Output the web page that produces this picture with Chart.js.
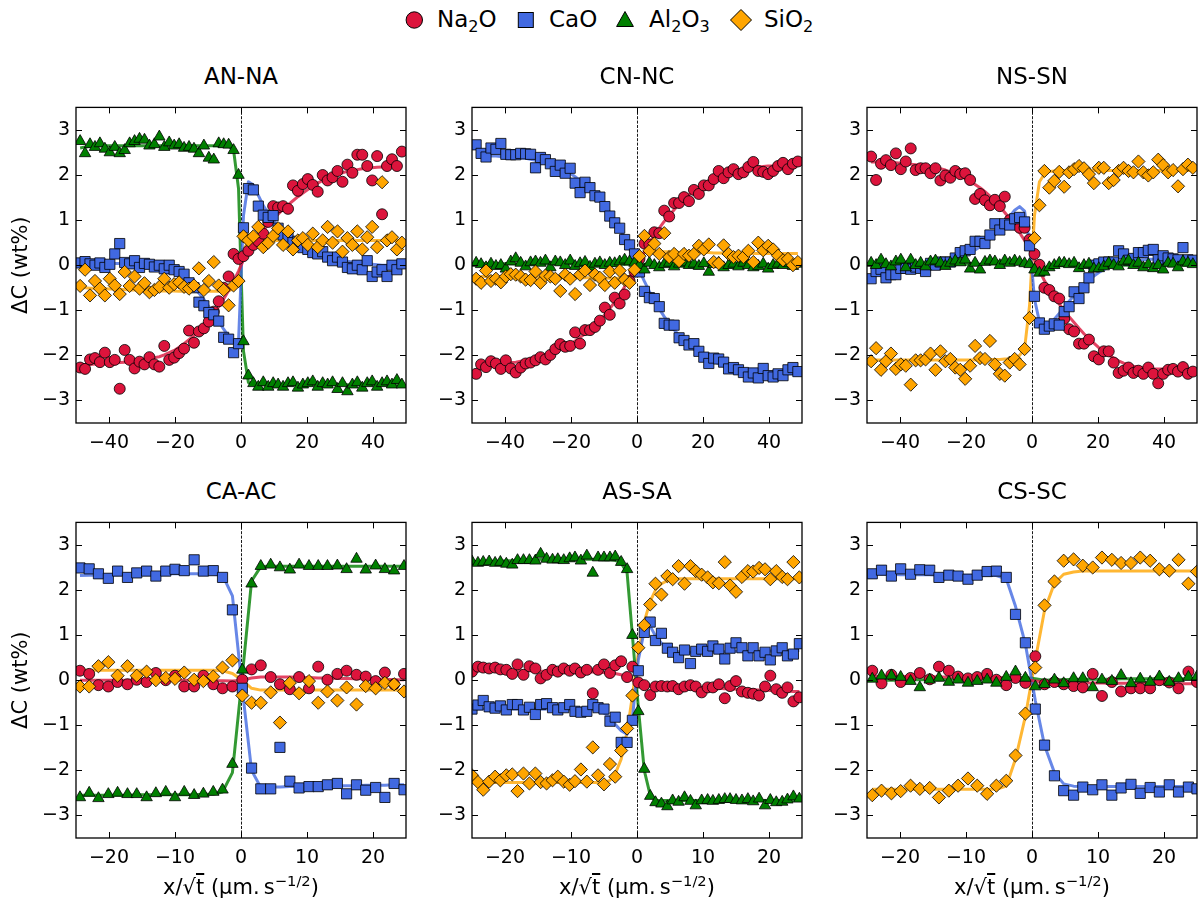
<!DOCTYPE html>
<html>
<head>
<meta charset="utf-8">
<script src="https://cdn.jsdelivr.net/npm/chart.js"></script>
<style>
  html, body { margin: 0; padding: 0; background: #fff; }
  body { width: 1198px; height: 906px; position: relative; overflow: hidden; font-family: 'DejaVu Sans', sans-serif; color: #000; }
  canvas { position: absolute; }
  .txt { position: absolute; white-space: nowrap; }
  .ptitle { font-size: 23px; line-height: 23px; text-align: center; width: 330px; }
  .xtitle { font-size: 21px; line-height: 21px; text-align: center; width: 330px; }
  .leg { font-size: 23px; line-height: 23px; }
  .sb { font-size: 70%; position: relative; top: 0.3em; }
  .sp { font-size: 70%; position: relative; top: -0.55em; }
  .ov { text-decoration: overline; }
</style>
</head>
<body>
<svg width="1198" height="44" style="position:absolute;left:0;top:0">
  <circle cx="414.3" cy="20" r="8.2" fill="#DC143C" stroke="#000" stroke-width="1"/>
  <rect x="518.3" y="12.5" width="15" height="15" fill="#4169E1" stroke="#000" stroke-width="1"/>
  <polygon points="625,11.5 633.4,26.5 616.6,26.5" fill="#008000" stroke="#000" stroke-width="1"/>
  <polygon points="741,9.5 751.5,20 741,30.5 730.5,20" fill="#FFA500" stroke="#000" stroke-width="1"/>
</svg>
<div class="txt leg" style="left:437px;top:8px">Na<span class="sb">2</span>O</div>
<div class="txt leg" style="left:549px;top:8px">CaO</div>
<div class="txt leg" style="left:649px;top:8px">Al<span class="sb">2</span>O<span class="sb">3</span></div>
<div class="txt leg" style="left:764px;top:8px">SiO<span class="sb">2</span></div>

<script>
// shared x positions for the three top panels (x/sqrt(t), um.s^-1/2)
const xTop = [
  -48.75,-47.25,-45.75,-44.25,-42.75,-41.25,-39.75,-38.25,-36.75,-35.25,
  -33.75,-32.25,-30.75,-29.25,-27.75,-26.25,-24.75,-23.25,-21.75,-20.25,
  -18.75,-17.25,-15.75,-14.25,-12.75,-11.25,-9.75,-8.25,-6.75,-5.25,
  -3.75,-2.25,-0.75,0.75,2.25,3.75,5.25,6.75,8.25,9.75,
  11.25,12.75,14.25,15.75,17.25,18.75,20.25,21.75,23.25,24.75,
  26.25,27.75,29.25,30.75,32.25,33.75,35.25,36.75,38.25,39.75,
  41.25,42.75,44.25,45.75,47.25,48.75];

// tick labels
const xTicksTop = [-40, -20, 0, 20, 40];
const xTicksBottom = [-20, -10, 0, 10, 20];
const yTicks = [-3, -2, -1, 0, 1, 2, 3];

// ---- AN-NA ----
const anNa2O = [
  -2.27,-2.3,-2.09,-2.06,-2.15,-1.94,-2.15,-2.1,-2.74,-1.88,
  -2.1,-2.29,-2.14,-2.2,-2.04,-2.2,-2.25,-1.79,-2.1,-2.05,
  -1.95,-1.85,-1.45,-1.72,-1.47,-1.4,-1.25,-1.03,-0.8,-0.5,
  -0.25,0.25,0.14,0.2,0.32,0.45,0.53,0.7,0.96,1.31,
  1.28,1.31,1.25,1.77,1.65,1.8,1.91,1.78,1.63,2.0,
  1.88,1.95,2.09,1.85,2.23,2.05,2.45,2.45,2.2,1.88,
  2.42,1.13,2.2,2.35,2.2,2.52];
const anCaO = [
  0.05,0.08,0.03,0.0,0.05,-0.05,0.02,0.25,0.48,0.06,
  0.03,0.1,-0.05,0.04,0.02,-0.04,0.0,-0.08,0.0,-0.1,
  -0.14,-0.2,-0.39,-0.5,-0.82,-0.9,-1.05,-1.1,-1.24,-1.6,
  -1.64,-1.94,-1.74,0.83,1.7,1.67,1.31,1.11,1.06,1.1,
  0.82,0.67,0.62,0.5,0.53,0.39,0.35,0.28,0.25,0.3,
  0.18,0.1,0.18,0.07,-0.05,-0.08,0.0,-0.1,0.1,-0.25,
  -0.15,-0.1,-0.25,0.0,-0.1,0.03];
const anAl2O3 = [
  2.75,2.48,2.68,2.62,2.7,2.58,2.5,2.62,2.48,2.55,
  2.7,2.75,2.8,2.78,2.65,2.68,2.85,2.62,2.72,2.65,
  2.68,2.6,2.62,2.58,2.48,2.65,2.38,2.34,2.7,2.68,
  2.67,2.55,2.0,-1.69,-2.45,-2.62,-2.7,-2.6,-2.7,-2.62,
  -2.65,-2.7,-2.62,-2.6,-2.72,-2.65,-2.62,-2.58,-2.7,-2.62,
  -2.65,-2.6,-2.75,-2.62,-2.8,-2.65,-2.6,-2.72,-2.62,-2.58,
  -2.7,-2.62,-2.58,-2.65,-2.55,-2.65];
const anSiO2 = [
  -0.46,-0.1,-0.67,-0.35,-0.52,-0.67,-0.3,-0.45,-0.64,-0.15,
  -0.46,-0.25,-0.52,-0.4,-0.6,-0.55,-0.48,-0.3,-0.5,-0.42,
  -0.38,-0.48,-0.52,-0.45,-0.07,-0.55,-0.35,0.07,-0.45,-0.55,
  -0.89,-0.45,-0.35,0.64,0.55,0.64,0.85,0.4,0.5,0.65,
  0.82,0.45,0.75,0.35,0.55,0.6,0.45,0.7,0.4,0.55,
  0.85,0.5,0.75,0.3,0.6,0.45,0.75,0.35,0.62,0.85,
  0.4,1.84,0.55,0.62,0.35,0.5];
const anNa2OFit = [
  -2.2,-2.2,-2.2,-2.19,-2.19,-2.18,-2.18,-2.17,-2.16,-2.15,
  -2.14,-2.13,-2.12,-2.1,-2.08,-2.05,-2.03,-1.99,-1.94,-1.89,
  -1.82,-1.74,-1.65,-1.56,-1.45,-1.34,-1.22,-1.07,-0.92,-0.75,
  -0.56,-0.36,-0.13,0.12,0.35,0.53,0.65,0.78,0.9,1.02,
  1.13,1.24,1.34,1.43,1.52,1.6,1.68,1.75,1.82,1.88,
  1.93,1.97,2.01,2.05,2.08,2.1,2.12,2.14,2.15,2.16,
  2.17,2.18,2.18,2.19,2.19,2.2];
const anCaOFit = [
  0.05,0.05,0.05,0.05,0.05,0.04,0.04,0.04,0.04,0.03,
  0.03,0.02,0.01,0.0,-0.01,-0.03,-0.05,-0.08,-0.12,-0.17,
  -0.23,-0.3,-0.4,-0.5,-0.62,-0.76,-0.92,-1.08,-1.25,-1.42,
  -1.58,-1.7,-1.7,1.1,1.85,1.78,1.55,1.32,1.15,1.0,
  0.88,0.76,0.66,0.57,0.5,0.43,0.38,0.33,0.28,0.24,
  0.2,0.17,0.14,0.11,0.09,0.07,0.05,0.04,0.03,0.02,
  0.01,0.0,0.0,-0.01,-0.01,-0.02];
const anAl2O3Fit = [
  2.6,2.62,2.64,2.65,2.65,2.65,2.65,2.65,2.65,2.65,
  2.65,2.65,2.65,2.65,2.65,2.65,2.65,2.65,2.65,2.65,
  2.65,2.65,2.65,2.65,2.65,2.65,2.65,2.65,2.65,2.65,
  2.64,2.55,1.7,-1.9,-2.6,-2.65,-2.65,-2.65,-2.65,-2.65,
  -2.65,-2.65,-2.65,-2.65,-2.65,-2.65,-2.65,-2.65,-2.65,-2.65,
  -2.65,-2.65,-2.65,-2.65,-2.65,-2.65,-2.65,-2.65,-2.65,-2.65,
  -2.65,-2.65,-2.65,-2.65,-2.65,-2.65];
const anSiO2Fit = [
  -0.5,-0.5,-0.51,-0.51,-0.52,-0.52,-0.53,-0.53,-0.54,-0.54,
  -0.55,-0.55,-0.55,-0.56,-0.56,-0.56,-0.57,-0.57,-0.57,-0.57,
  -0.58,-0.58,-0.58,-0.58,-0.58,-0.58,-0.58,-0.58,-0.58,-0.58,
  -0.57,-0.52,-0.3,0.35,0.52,0.55,0.55,0.55,0.55,0.55,
  0.55,0.55,0.55,0.55,0.55,0.55,0.55,0.55,0.55,0.55,
  0.55,0.55,0.55,0.55,0.55,0.55,0.55,0.55,0.55,0.55,
  0.55,0.55,0.55,0.55,0.55,0.55];

// ---- CN-NC ----
const cnNa2O = [
  -2.41,-2.2,-2.26,-2.13,-2.18,-2.3,-2.11,-2.29,-2.38,-2.27,
  -2.18,-2.16,-2.11,-2.04,-2.09,-1.99,-1.86,-1.75,-1.81,-1.79,
  -1.49,-1.74,-1.44,-1.44,-1.37,-1.23,-0.94,-1.1,-0.72,-0.85,
  -0.65,-0.35,-0.14,0.14,0.48,0.46,0.73,0.71,1.21,1.08,
  1.38,1.38,1.51,1.42,1.67,1.58,1.77,1.77,1.91,2.09,
  1.93,2.06,2.13,2.02,2.06,2.18,2.29,2.09,2.07,2.02,
  2.09,2.2,2.27,2.13,2.25,2.3];
const cnCaO = [
  2.67,2.48,2.4,2.6,2.57,2.7,2.46,2.45,2.45,2.48,
  2.47,2.46,2.16,2.39,2.34,2.25,2.08,2.22,2.04,2.15,
  1.82,1.61,1.84,1.72,1.54,1.51,1.3,1.09,0.94,0.82,
  0.57,0.45,0.25,-0.15,-0.58,-0.72,-0.74,-0.92,-1.29,-1.33,
  -1.33,-1.61,-1.67,-1.77,-1.74,-1.91,-2.04,-2.18,-2.06,-2.08,
  -2.15,-2.3,-2.27,-2.32,-2.38,-2.48,-2.39,-2.5,-2.29,-2.45,
  -2.48,-2.41,-2.45,-2.32,-2.27,-2.36];
const cnAl2O3 = [
  0.05,0.02,-0.05,0.03,-0.02,0.0,-0.08,0.08,0.15,0.05,
  -0.03,0.06,0.08,0.05,0.1,-0.05,0.08,0.06,0.0,0.1,
  -0.02,0.04,0.07,-0.04,0.03,0.06,0.0,0.05,0.04,0.08,
  0.12,0.08,0.05,0.0,-0.1,0.05,0.0,-0.05,0.02,0.05,
  -0.03,0.03,0.06,0.0,0.03,-0.02,0.04,-0.15,0.02,0.05,
  -0.05,0.0,0.03,-0.03,0.05,0.0,-0.05,-0.02,0.03,-0.08,
  0.0,0.03,0.0,0.05,-0.02,0.03];
const cnSiO2 = [
  -0.3,-0.39,-0.12,-0.35,-0.3,-0.38,-0.25,-0.2,-0.21,-0.25,
  -0.32,-0.33,-0.14,-0.39,-0.23,-0.25,-0.3,-0.57,-0.21,-0.3,
  -0.64,-0.21,-0.12,-0.44,-0.21,-0.28,-0.44,-0.14,-0.39,-0.12,
  -0.32,-0.39,-0.1,0.2,0.65,0.32,0.48,0.25,0.71,0.18,
  0.25,0.09,0.25,0.21,0.25,0.43,0.35,0.46,0.07,0.04,
  0.44,0.25,0.18,0.21,0.18,0.32,0.07,0.5,0.33,0.43,
  0.35,0.21,0.11,0.14,0.0,0.07];
const cnNa2OFit = [
  -2.2,-2.2,-2.2,-2.19,-2.19,-2.18,-2.17,-2.16,-2.15,-2.13,
  -2.11,-2.09,-2.06,-2.03,-2.0,-1.96,-1.91,-1.86,-1.81,-1.75,
  -1.68,-1.6,-1.52,-1.43,-1.33,-1.22,-1.1,-0.96,-0.82,-0.66,
  -0.48,-0.3,-0.1,0.1,0.3,0.49,0.66,0.82,0.97,1.1,
  1.23,1.35,1.46,1.56,1.65,1.73,1.8,1.87,1.93,1.98,
  2.02,2.06,2.09,2.12,2.14,2.16,2.17,2.18,2.19,2.2,
  2.2,2.2,2.21,2.21,2.21,2.21];
const cnCaOFit = [
  2.42,2.42,2.42,2.42,2.42,2.41,2.41,2.4,2.39,2.38,
  2.37,2.35,2.33,2.31,2.28,2.24,2.2,2.15,2.1,2.04,
  1.96,1.88,1.79,1.69,1.58,1.46,1.32,1.17,1.0,0.8,
  0.6,0.37,0.12,-0.12,-0.36,-0.58,-0.78,-0.97,-1.14,-1.29,
  -1.43,-1.56,-1.67,-1.77,-1.86,-1.94,-2.02,-2.08,-2.14,-2.19,
  -2.23,-2.27,-2.3,-2.32,-2.34,-2.36,-2.37,-2.38,-2.39,-2.4,
  -2.4,-2.41,-2.41,-2.41,-2.41,-2.41];
const cnAl2O3Fit = [
  0.03,0.03,0.03,0.03,0.03,0.03,0.03,0.03,0.03,0.03,
  0.03,0.03,0.03,0.03,0.03,0.03,0.03,0.03,0.03,0.03,
  0.02,0.02,0.02,0.02,0.02,0.02,0.02,0.02,0.02,0.02,
  0.02,0.02,0.02,0.02,0.02,0.02,0.02,0.02,0.02,0.02,
  0.02,0.02,0.02,0.02,0.02,0.02,0.02,0.02,0.02,0.02,
  0.01,0.01,0.01,0.01,0.01,0.01,0.01,0.01,0.01,0.01,
  0.01,0.01,0.01,0.01,0.01,0.01];
const cnSiO2Fit = [
  -0.25,-0.25,-0.25,-0.25,-0.25,-0.26,-0.26,-0.26,-0.26,-0.26,
  -0.27,-0.27,-0.27,-0.27,-0.27,-0.27,-0.28,-0.28,-0.28,-0.28,
  -0.28,-0.28,-0.28,-0.28,-0.29,-0.29,-0.29,-0.29,-0.29,-0.29,
  -0.28,-0.25,-0.1,0.12,0.28,0.32,0.32,0.31,0.3,0.3,
  0.29,0.29,0.29,0.28,0.28,0.28,0.28,0.28,0.27,0.27,
  0.27,0.27,0.27,0.27,0.27,0.26,0.26,0.26,0.26,0.26,
  0.26,0.26,0.26,0.26,0.26,0.26];

// ---- NS-SN ----
const nsNa2O = [
  2.41,1.89,2.25,2.33,2.22,2.48,2.13,2.3,2.59,2.11,
  2.15,2.15,2.04,2.15,1.88,1.99,1.94,2.09,2.02,2.04,
  1.89,1.47,1.58,1.44,1.33,1.45,1.31,1.52,1.0,0.96,
  0.83,0.83,0.57,0.25,0.01,-0.5,-0.55,-0.69,-0.74,-1.19,
  -1.42,-1.47,-1.74,-1.74,-1.65,-2.02,-2.09,-1.91,-1.91,-2.16,
  -2.39,-2.34,-2.27,-2.39,-2.34,-2.41,-2.27,-2.41,-2.62,-2.41,
  -2.32,-2.3,-2.36,-2.26,-2.41,-2.36];
const nsCaO = [
  -0.3,-0.14,-0.09,-0.28,-0.21,-0.21,-0.07,-0.07,-0.09,-0.04,
  -0.07,-0.14,0.04,0.0,0.07,0.07,0.07,0.16,0.28,0.32,
  0.35,0.53,0.53,0.48,0.67,0.92,0.78,0.92,0.89,1.03,
  1.06,0.96,0.43,-0.69,-1.28,-1.42,-1.35,-1.3,-1.33,-1.03,
  -0.92,-0.59,-0.74,-0.5,-0.28,0.0,0.03,0.07,0.07,0.07,
  0.32,0.25,0.11,0.15,0.28,0.28,0.33,0.35,0.12,0.21,
  0.16,0.14,0.12,0.39,0.12,0.11];
const nsAl2O3 = [
  0.05,0.0,0.12,0.02,-0.03,0.08,0.12,-0.05,0.12,0.0,
  0.05,-0.03,0.08,0.1,0.05,-0.02,0.05,0.1,0.06,0.12,
  -0.08,0.05,-0.1,0.07,0.1,0.08,0.0,0.1,0.05,0.1,
  0.07,0.04,0.02,-0.1,-0.17,-0.15,-0.05,0.0,0.05,0.05,
  0.02,0.05,-0.07,0.0,0.03,-0.08,-0.07,-0.03,0.05,0.0,
  -0.03,0.08,0.1,0.0,0.05,-0.05,0.02,-0.07,0.0,-0.1,
  0.05,0.03,-0.05,0.08,0.05,0.02];
const nsSiO2 = [
  -2.13,-1.84,-2.32,-2.13,-1.96,-2.3,-2.2,-2.23,-2.65,-2.11,
  -2.11,-2.09,-1.96,-2.32,-1.91,-2.13,-2.08,-2.27,-2.32,-2.52,
  -2.23,-1.79,-2.06,-2.08,-1.68,-2.2,-2.41,-2.45,-2.16,-2.08,
  -2.2,-1.86,-1.17,0.6,1.33,2.09,1.72,1.87,2.07,1.74,
  2.06,2.13,2.2,2.15,2.02,1.82,2.16,2.16,1.82,1.89,
  2.09,2.16,2.09,2.06,2.3,2.06,1.99,2.06,2.34,2.22,
  2.06,2.11,1.75,2.13,2.23,2.16];
const nsNa2OFit = [
  2.29,2.29,2.28,2.28,2.27,2.27,2.26,2.25,2.24,2.23,
  2.22,2.21,2.19,2.17,2.14,2.11,2.07,2.03,1.98,1.92,
  1.86,1.79,1.72,1.63,1.53,1.42,1.3,1.17,1.03,0.88,
  0.72,0.55,0.35,0.12,-0.12,-0.34,-0.53,-0.7,-0.86,-1.0,
  -1.14,-1.27,-1.4,-1.52,-1.63,-1.73,-1.83,-1.91,-1.99,-2.06,
  -2.12,-2.17,-2.21,-2.24,-2.26,-2.28,-2.29,-2.3,-2.3,-2.3,
  -2.3,-2.3,-2.3,-2.3,-2.3,-2.3];
const nsCaOFit = [
  -0.2,-0.19,-0.18,-0.17,-0.16,-0.15,-0.13,-0.12,-0.1,-0.08,
  -0.06,-0.04,-0.02,0.0,0.03,0.06,0.09,0.13,0.18,0.23,
  0.28,0.34,0.41,0.49,0.58,0.68,0.8,0.93,1.08,1.22,
  1.3,1.2,0.5,-0.75,-1.25,-1.35,-1.3,-1.2,-1.07,-0.93,
  -0.8,-0.67,-0.55,-0.43,-0.33,-0.24,-0.16,-0.1,-0.04,0.0,
  0.03,0.06,0.08,0.1,0.11,0.12,0.13,0.13,0.14,0.14,
  0.14,0.14,0.14,0.14,0.14,0.14];
const nsAl2O3Fit = [
  0.02,0.02,0.02,0.02,0.02,0.02,0.02,0.02,0.02,0.02,
  0.02,0.02,0.02,0.02,0.02,0.02,0.02,0.02,0.02,0.02,
  0.02,0.02,0.02,0.03,0.03,0.03,0.04,0.04,0.04,0.05,
  0.05,0.05,0.03,-0.03,-0.06,-0.05,-0.03,-0.02,-0.01,-0.01,
  -0.01,-0.01,-0.01,-0.01,-0.01,-0.01,-0.01,-0.01,-0.01,-0.01,
  0.0,0.0,0.0,0.0,0.0,0.0,0.0,0.0,0.0,0.0,
  0.0,0.0,0.0,0.0,0.0,0.0];
const nsSiO2Fit = [
  -2.1,-2.1,-2.1,-2.1,-2.1,-2.1,-2.1,-2.1,-2.1,-2.1,
  -2.1,-2.1,-2.1,-2.1,-2.1,-2.1,-2.1,-2.1,-2.1,-2.1,
  -2.1,-2.1,-2.1,-2.1,-2.09,-2.09,-2.09,-2.08,-2.08,-2.07,
  -2.0,-1.85,-0.9,1.1,1.85,2.02,2.08,2.09,2.1,2.1,
  2.1,2.1,2.1,2.1,2.1,2.1,2.1,2.1,2.1,2.1,
  2.1,2.1,2.1,2.1,2.1,2.1,2.1,2.1,2.1,2.1,
  2.1,2.1,2.1,2.1,2.1,2.1];

// ---- CA-AC ----
const xCA = [
  -24.4,-23.0,-21.6,-20.1,-18.7,-17.2,-15.8,-14.3,-12.9,-11.4,
  -10.0,-8.6,-7.1,-5.7,-4.2,-2.8,-1.3,0.2,1.6,3.0,
  4.5,5.9,7.4,8.8,10.3,11.7,13.1,14.6,16.0,17.5,
  18.9,20.4,21.8,23.2,24.7];
const caNa2O = [
  0.21,0.14,-0.11,-0.14,-0.04,-0.09,0.01,-0.04,0.16,0.0,
  0.1,-0.14,-0.14,0.1,-0.09,-0.18,-0.14,0.01,0.24,0.33,
  0.07,-0.09,-0.2,0.07,-0.18,0.3,0.01,0.14,0.21,0.12,
  0.08,-0.02,0.17,-0.09,0.14];
const caCaO = [
  2.49,2.47,2.36,2.26,2.42,2.28,2.38,2.42,2.31,2.42,
  2.46,2.43,2.67,2.42,2.43,2.28,1.56,-0.18,-1.95,-2.41,
  -2.41,-1.49,-2.24,-2.39,-2.36,-2.36,-2.32,-2.29,-2.52,-2.32,
  -2.44,-2.38,-2.6,-2.29,-2.43];
const caAl2O3 = [
  -2.6,-2.5,-2.62,-2.53,-2.5,-2.53,-2.53,-2.6,-2.51,-2.48,
  -2.6,-2.48,-2.55,-2.52,-2.48,-2.43,-1.86,0.23,2.14,2.53,
  2.56,2.5,2.45,2.56,2.53,2.53,2.53,2.54,2.46,2.69,
  2.45,2.54,2.46,2.43,2.53];
const caSiO2 = [
  -0.14,-0.14,0.31,0.4,0.1,0.31,0.1,0.19,0.0,0.05,
  0.03,0.17,0.01,-0.02,0.08,0.28,0.44,-0.34,-0.5,-0.5,
  -0.27,-0.94,-0.06,-0.29,-0.02,-0.5,-0.25,-0.45,-0.16,-0.54,
  -0.13,-0.18,-0.06,-0.09,-0.25];
const caNa2OFit = [
  0.0,0.0,0.0,0.0,0.0,0.0,0.0,0.0,0.0,0.0,
  0.0,0.0,0.0,0.0,-0.01,-0.01,-0.02,0.0,0.05,0.07,
  0.07,0.07,0.07,0.06,0.06,0.05,0.05,0.04,0.04,0.03,
  0.03,0.02,0.02,0.01,0.01];
const caCaOFit = [
  2.32,2.33,2.33,2.34,2.34,2.35,2.35,2.35,2.36,2.36,
  2.36,2.36,2.36,2.36,2.36,2.33,1.87,-0.2,-2.0,-2.38,
  -2.37,-2.37,-2.36,-2.36,-2.35,-2.35,-2.35,-2.34,-2.34,-2.34,
  -2.33,-2.33,-2.33,-2.32,-2.32];
const caAl2O3Fit = [
  -2.55,-2.55,-2.55,-2.55,-2.55,-2.55,-2.54,-2.54,-2.54,-2.54,
  -2.54,-2.54,-2.54,-2.53,-2.53,-2.48,-2.05,0.1,2.2,2.52,
  2.53,2.53,2.53,2.53,2.53,2.53,2.53,2.53,2.53,2.53,
  2.53,2.53,2.53,2.53,2.53];
const caSiO2Fit = [
  0.22,0.22,0.22,0.22,0.22,0.22,0.22,0.22,0.22,0.22,
  0.22,0.22,0.22,0.22,0.22,0.21,0.15,0.0,-0.18,-0.22,
  -0.22,-0.22,-0.22,-0.22,-0.22,-0.22,-0.22,-0.22,-0.22,-0.22,
  -0.22,-0.22,-0.22,-0.22,-0.22];

// ---- AS-SA ----
const xAS = [
  -25.0,-24.1,-23.3,-22.4,-21.5,-20.7,-19.8,-18.9,-18.1,-17.2,
  -16.3,-15.4,-14.6,-13.7,-12.8,-12.0,-11.1,-10.2,-9.4,-8.5,
  -7.6,-6.7,-5.9,-5.0,-4.1,-3.3,-2.4,-1.5,-0.7,0.2,
  1.1,2.0,2.8,3.7,4.6,5.4,6.3,7.2,8.1,8.9,
  9.8,10.7,11.5,12.4,13.3,14.1,15.0,15.9,16.8,17.6,
  18.5,19.4,20.2,21.1,22.0,22.8,23.7,24.6];
const asNa2O = [
  0.19,0.3,0.28,0.26,0.28,0.24,0.23,0.14,0.35,0.12,
  0.31,0.26,0.04,0.12,0.23,0.19,0.26,0.21,0.26,0.17,
  0.23,-0.29,0.23,0.35,0.16,0.33,0.42,0.07,0.3,-0.05,
  -0.11,-0.33,-0.14,-0.13,-0.14,-0.13,-0.2,-0.14,-0.11,-0.14,
  -0.27,-0.16,-0.16,-0.09,-0.4,-0.13,-0.02,-0.25,-0.28,-0.3,
  -0.34,-0.14,0.1,-0.2,-0.28,-0.16,-0.47,-0.38];
const asCaO = [
  -0.64,-0.55,-0.45,-0.59,-0.62,-0.57,-0.66,-0.54,-0.54,-0.66,
  -0.6,-0.76,-0.54,-0.52,-0.61,-0.66,-0.61,-0.54,-0.69,-0.71,
  -0.69,-0.54,-0.61,-0.64,-0.91,-0.82,-1.38,-1.38,-0.89,0.21,
  1.06,1.29,0.88,1.04,0.71,0.62,0.5,0.67,0.37,0.64,
  0.69,0.64,0.76,0.69,0.47,0.71,0.83,0.72,0.54,0.72,
  0.54,0.62,0.45,0.65,0.72,0.54,0.58,0.81];
const asAl2O3 = [
  2.63,2.6,2.62,2.63,2.6,2.62,2.58,2.56,2.66,2.66,
  2.66,2.65,2.8,2.69,2.67,2.68,2.66,2.7,2.72,2.65,
  2.76,2.38,2.72,2.72,2.72,2.74,2.62,2.46,1.0,-0.69,
  -1.97,-2.57,-2.71,-2.74,-2.8,-2.67,-2.7,-2.6,-2.68,-2.78,
  -2.67,-2.66,-2.68,-2.66,-2.64,-2.64,-2.66,-2.67,-2.64,-2.69,
  -2.63,-2.78,-2.66,-2.71,-2.7,-2.65,-2.58,-2.63];
const asSiO2 = [
  -2.11,-2.26,-2.43,-2.25,-2.14,-2.22,-2.11,-2.09,-2.46,-2.07,
  -2.29,-2.07,-2.26,-2.29,-2.22,-2.14,-2.25,-2.32,-2.24,-1.98,
  -2.25,-1.49,-2.11,-2.31,-1.86,-2.14,-1.56,-1.07,-0.34,0.72,
  1.22,1.68,2.14,1.9,2.31,2.24,2.53,2.14,2.53,2.42,
  2.34,2.28,2.17,2.15,2.62,2.1,1.96,2.29,2.42,2.41,
  2.49,2.46,2.24,2.42,2.29,2.24,2.62,2.28];
const asNa2OFit = [
  0.23,0.23,0.23,0.22,0.22,0.22,0.22,0.21,0.21,0.21,
  0.21,0.2,0.2,0.2,0.2,0.19,0.19,0.19,0.19,0.18,
  0.18,0.18,0.17,0.17,0.16,0.15,0.12,0.07,0.0,-0.07,
  -0.11,-0.13,-0.14,-0.14,-0.15,-0.15,-0.15,-0.16,-0.16,-0.16,
  -0.17,-0.17,-0.18,-0.18,-0.19,-0.19,-0.2,-0.2,-0.21,-0.21,
  -0.22,-0.22,-0.23,-0.23,-0.24,-0.24,-0.25,-0.25];
const asCaOFit = [
  -0.64,-0.64,-0.64,-0.64,-0.64,-0.64,-0.64,-0.64,-0.64,-0.64,
  -0.64,-0.64,-0.64,-0.64,-0.64,-0.64,-0.64,-0.64,-0.64,-0.64,
  -0.64,-0.65,-0.68,-0.73,-0.83,-0.98,-1.12,-1.2,-0.85,0.45,
  1.1,1.2,0.98,0.82,0.72,0.66,0.63,0.62,0.62,0.62,
  0.62,0.62,0.63,0.63,0.63,0.63,0.64,0.64,0.64,0.64,
  0.64,0.65,0.65,0.65,0.65,0.65,0.66,0.66];
const asAl2O3Fit = [
  2.63,2.63,2.63,2.64,2.64,2.64,2.65,2.65,2.66,2.66,
  2.67,2.67,2.68,2.68,2.68,2.68,2.68,2.68,2.68,2.68,
  2.68,2.68,2.68,2.67,2.67,2.66,2.6,2.38,1.0,-0.6,
  -2.0,-2.55,-2.66,-2.67,-2.67,-2.67,-2.67,-2.67,-2.67,-2.67,
  -2.67,-2.67,-2.67,-2.67,-2.67,-2.67,-2.67,-2.67,-2.67,-2.67,
  -2.67,-2.67,-2.67,-2.67,-2.67,-2.67,-2.67,-2.67];
const asSiO2Fit = [
  -2.27,-2.27,-2.27,-2.27,-2.27,-2.27,-2.27,-2.27,-2.27,-2.27,
  -2.27,-2.27,-2.27,-2.27,-2.27,-2.27,-2.27,-2.27,-2.27,-2.27,
  -2.27,-2.27,-2.27,-2.27,-2.22,-2.08,-1.75,-1.15,-0.35,0.6,
  1.3,1.75,2.0,2.14,2.21,2.24,2.25,2.25,2.25,2.25,
  2.25,2.25,2.25,2.25,2.25,2.25,2.25,2.25,2.25,2.25,
  2.25,2.25,2.25,2.25,2.25,2.25,2.25,2.25];

// ---- CS-SC ----
const xCS = [
  -24.2,-22.8,-21.3,-19.9,-18.4,-17.0,-15.5,-14.1,-12.6,-11.2,
  -9.7,-8.3,-6.8,-5.4,-3.9,-2.5,-1.0,0.5,1.9,3.4,
  4.8,6.3,7.7,9.2,10.6,12.1,13.5,15.0,16.4,17.9,
  19.3,20.8,22.2,23.7,25.0];
const csNa2O = [
  0.21,-0.07,0.12,-0.04,0.05,0.16,0.02,0.3,0.21,0.08,
  0.04,0.07,0.14,0.01,-0.11,0.05,-0.06,0.53,-0.09,-0.04,
  -0.09,-0.13,-0.16,0.14,-0.35,-0.04,-0.25,-0.18,-0.18,-0.18,
  0.0,-0.05,-0.18,0.19,-0.04];
const csCaO = [
  2.36,2.44,2.31,2.47,2.35,2.45,2.44,2.28,2.33,2.31,
  2.24,2.33,2.41,2.42,2.28,1.46,0.83,-0.64,-1.44,-2.12,
  -2.45,-2.55,-2.37,-2.43,-2.32,-2.55,-2.39,-2.31,-2.51,-2.38,
  -2.48,-2.32,-2.48,-2.37,-2.41];
const csAl2O3 = [
  0.03,0.1,0.1,0.07,-0.02,-0.16,0.01,0.05,-0.04,0.01,
  -0.06,-0.02,0.01,-0.06,0.07,0.19,0.05,-0.14,-0.09,0.01,
  -0.07,0.04,0.04,-0.16,0.01,-0.02,0.11,-0.07,0.03,-0.04,
  0.08,-0.04,0.04,0.07,0.08];
const csSiO2 = [
  -2.55,-2.45,-2.51,-2.46,-2.34,-2.41,-2.39,-2.6,-2.45,-2.34,
  -2.18,-2.34,-2.52,-2.34,-2.23,-1.67,-0.74,0.28,1.66,2.19,
  2.65,2.68,2.54,2.5,2.72,2.67,2.6,2.6,2.72,2.65,
  2.46,2.43,2.67,2.14,2.41];
const csNa2OFit = [
  0.09,0.09,0.09,0.08,0.08,0.08,0.08,0.07,0.07,0.07,
  0.07,0.06,0.06,0.06,0.05,0.04,0.02,-0.02,-0.04,-0.05,
  -0.05,-0.06,-0.06,-0.06,-0.06,-0.07,-0.07,-0.07,-0.07,-0.07,
  -0.08,-0.08,-0.08,-0.08,-0.08];
const csCaOFit = [
  2.36,2.35,2.35,2.34,2.34,2.34,2.34,2.33,2.33,2.33,
  2.33,2.33,2.33,2.32,2.25,1.64,0.8,-0.45,-1.45,-2.05,
  -2.3,-2.35,-2.36,-2.36,-2.36,-2.36,-2.36,-2.36,-2.36,-2.36,
  -2.36,-2.36,-2.36,-2.36,-2.36];
const csAl2O3Fit = [
  0.0,0.0,0.0,0.0,0.01,0.01,0.01,0.01,0.02,0.02,
  0.02,0.03,0.03,0.04,0.05,0.06,0.06,0.03,0.0,0.01,
  0.01,0.02,0.02,0.02,0.02,0.02,0.03,0.03,0.03,0.03,
  0.03,0.03,0.03,0.03,0.03];
const csSiO2Fit = [
  -2.42,-2.42,-2.42,-2.42,-2.42,-2.42,-2.42,-2.42,-2.42,-2.42,
  -2.42,-2.42,-2.42,-2.42,-2.35,-1.75,-0.8,0.45,1.55,2.15,
  2.35,2.4,2.42,2.42,2.42,2.42,2.42,2.42,2.42,2.42,
  2.42,2.42,2.42,2.42,2.42];

const panelTitles = ['AN-NA', 'CN-NC', 'NS-SN', 'CA-AC', 'AS-SA', 'CS-SC'];
const xRanges = [[-50, 50], [-50, 50], [-50, 50], [-25, 25], [-25, 25], [-25, 25]];

const panels = [
  { x: xTop, pts: [anNa2O, anCaO, anAl2O3, anSiO2], fit: [anNa2OFit, anCaOFit, anAl2O3Fit, anSiO2Fit] },
  { x: xTop, pts: [cnNa2O, cnCaO, cnAl2O3, cnSiO2], fit: [cnNa2OFit, cnCaOFit, cnAl2O3Fit, cnSiO2Fit] },
  { x: xTop, pts: [nsNa2O, nsCaO, nsAl2O3, nsSiO2], fit: [nsNa2OFit, nsCaOFit, nsAl2O3Fit, nsSiO2Fit] },
  { x: xCA, pts: [caNa2O, caCaO, caAl2O3, caSiO2], fit: [caNa2OFit, caCaOFit, caAl2O3Fit, caSiO2Fit] },
  { x: xAS, pts: [asNa2O, asCaO, asAl2O3, asSiO2], fit: [asNa2OFit, asCaOFit, asAl2O3Fit, asSiO2Fit] },
  { x: xCS, pts: [csNa2O, csCaO, csAl2O3, csSiO2], fit: [csNa2OFit, csCaOFit, csAl2O3Fit, csSiO2Fit] }
];

// sanity check on array lengths
const bad = [];
panels.forEach((p, i) => {
  p.pts.concat(p.fit).forEach((a, j) => { if (a.length !== p.x.length) bad.push(panelTitles[i] + ' #' + j + ': ' + a.length + '/' + p.x.length); });
});
if (bad.length) throw new Error('length mismatch ' + bad.join(', '));

const oxides = [
  { style: 'circle', r: 5.5, fill: '#DC143C', line: 'rgba(220,20,60,0.8)' },
  { style: 'rect', r: 7.2, fill: '#4169E1', line: 'rgba(65,105,225,0.8)' },
  { style: 'triangle', r: 6.6, fill: '#008000', line: 'rgba(0,128,0,0.8)' },
  { style: 'rectRot', r: 6.6, fill: '#FFA500', line: 'rgba(255,165,0,0.8)' }
];

const COLS = [76, 472, 867];
const ROWS = [94, 509];
const PW = 330, PH = 329, YW = 75, PAD = 4, XH = 40;

Chart.defaults.font.family = "'DejaVu Sans', sans-serif";
Chart.defaults.color = '#000';

const minus = v => (v < 0 ? '\u2212' + Math.abs(v) : String(v));

const framePlugin = {
  id: 'frame',
  beforeDatasetsDraw(chart) {
    const { ctx, chartArea: a, scales: { x } } = chart;
    const px = Math.round(x.getPixelForValue(0)) + 0.5;
    ctx.save();
    ctx.strokeStyle = '#000';
    ctx.lineWidth = 0.9;
    ctx.setLineDash([3, 1.4]);
    ctx.beginPath();
    ctx.moveTo(px, a.top);
    ctx.lineTo(px, a.bottom);
    ctx.stroke();
    ctx.restore();
  },
  afterDraw(chart) {
    const { ctx, chartArea: a, scales: { x, y } } = chart;
    ctx.save();
    ctx.strokeStyle = '#000';
    ctx.lineWidth = 1;
    ctx.beginPath();
    x.ticks.forEach(t => {
      const px = Math.round(x.getPixelForValue(t.value)) + 0.5;
      ctx.moveTo(px, a.bottom); ctx.lineTo(px, a.bottom - 6);
      ctx.moveTo(px, a.top); ctx.lineTo(px, a.top + 6);
    });
    y.ticks.forEach(t => {
      const py = Math.round(y.getPixelForValue(t.value)) + 0.5;
      ctx.moveTo(a.left, py); ctx.lineTo(a.left + 6, py);
      ctx.moveTo(a.right, py); ctx.lineTo(a.right - 6, py);
    });
    ctx.stroke();
    ctx.lineWidth = 1.3;
    ctx.strokeRect(a.left, a.top, a.right - a.left, a.bottom - a.top);
    ctx.restore();
  }
};

panels.forEach((p, i) => {
  const col = i % 3, row = Math.floor(i / 3);
  const [xmin, xmax] = xRanges[i];
  const xTickVals = row === 0 ? xTicksTop : xTicksBottom;

  const cv = document.createElement('canvas');
  cv.width = YW + PW + PAD;
  cv.height = PAD + PH + XH;
  cv.style.left = (COLS[col] - YW) + 'px';
  cv.style.top = (ROWS[row] - PAD) + 'px';
  document.body.appendChild(cv);

  const t = document.createElement('div');
  t.className = 'txt ptitle';
  t.textContent = panelTitles[i];
  t.style.left = COLS[col] + 'px';
  t.style.top = (ROWS[row] - 10 - 19.5) + 'px';
  document.body.appendChild(t);

  if (row === 1) {
    const xt = document.createElement('div');
    xt.className = 'txt xtitle';
    xt.innerHTML = 'x/\u221A<span class="ov">t</span> (\u00B5m.\u2009s<span class="sp">\u22121/2</span>)';
    xt.style.left = COLS[col] + 'px';
    xt.style.top = '877px';
    document.body.appendChild(xt);
  }

  const datasets = [];
  oxides.forEach((o, k) => {
    datasets.push({
      data: p.x.map((xv, j) => ({ x: xv, y: p.pts[k][j] })),
      pointStyle: o.style,
      pointRadius: o.r,
      backgroundColor: o.fill,
      borderColor: '#000',
      borderWidth: 0.8,
      showLine: false,
      clip: 0,
      order: 4 - k
    });
  });
  oxides.forEach((o, k) => {
    datasets.push({
      data: p.x.map((xv, j) => ({ x: xv, y: p.fit[k][j] })),
      showLine: true,
      pointRadius: 0,
      borderColor: o.line,
      borderWidth: 3,
      borderJoinStyle: 'round',
      tension: 0,
      clip: 0,
      order: 10 + k
    });
  });

  new Chart(cv.getContext('2d'), {
    type: 'scatter',
    data: { datasets },
    options: {
      responsive: false,
      animation: false,
      devicePixelRatio: 1,
      events: [],
      layout: { autoPadding: false, padding: { top: PAD, right: PAD, left: 0, bottom: 0 } },
      plugins: { legend: { display: false }, tooltip: { enabled: false } },
      scales: {
        x: {
          type: 'linear', min: xmin, max: xmax,
          grid: { display: false, drawTicks: false },
          border: { display: false },
          afterBuildTicks: s => { s.ticks = xTickVals.map(v => ({ value: v })); },
          ticks: { maxRotation: 0, autoSkip: false,
                   padding: 9, font: { size: 19 }, color: '#000', callback: minus },
          afterFit: s => { s.height = XH; }
        },
        y: {
          type: 'linear', min: -3.5, max: 3.5,
          grid: { display: false, drawTicks: false },
          border: { display: false },
          afterBuildTicks: s => { s.ticks = yTicks.map(v => ({ value: v })); },
          ticks: { autoSkip: false,
                   padding: 6, font: { size: 19 }, color: '#000', callback: minus },
          title: { display: col === 0, text: '\u0394C (wt%)', font: { size: 21 }, color: '#000',
                   padding: { top: 8, bottom: 0 } },
          afterFit: s => { s.width = YW; }
        }
      }
    },
    plugins: [framePlugin]
  });
});
</script>
</body>
</html>
